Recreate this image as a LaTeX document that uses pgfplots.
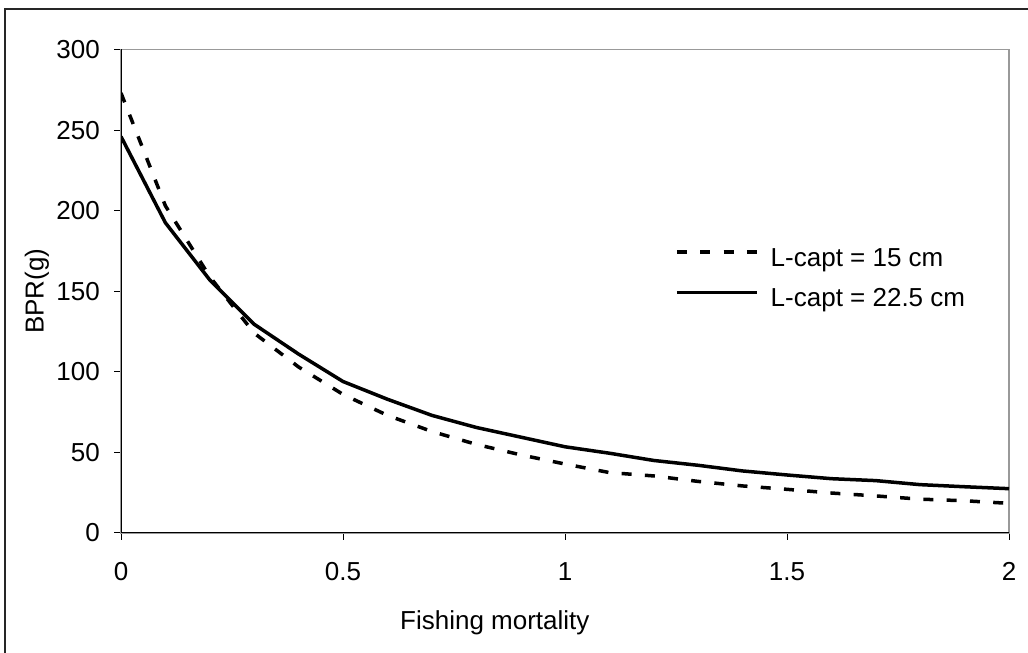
\documentclass[border=0pt]{standalone}
\usepackage{fontspec}
\setmainfont{Liberation Sans}
\usepackage{pgfplots}
\pgfplotsset{compat=1.18}

% Biomass per recruit against fishing mortality, two sizes at first capture
\pgfplotstableread{
F    bpr
0.0  273
0.1  203
0.2  159
0.3  124
0.4  103
0.5  86
0.6  73
0.7  63
0.8  55
0.9  48.5
1.0  42.8
1.1  37.5
1.2  35.4
1.3  32
1.4  29.2
1.5  27.1
1.6  24.8
1.7  23
1.8  21
1.9  20
2.0  18.4
}\lcaptfifteen

\pgfplotstableread{
F    bpr
0.0  246
0.1  192.5
0.2  157
0.3  129.5
0.4  111
0.5  94
0.6  83
0.7  73
0.8  65.5
0.9  59.5
1.0  53.5
1.1  49.5
1.2  45
1.3  42
1.4  38.5
1.5  36
1.6  33.7
1.7  32.5
1.8  30
1.9  28.7
2.0  27.5
}\lcapttwentytwo

\begin{document}
\begin{tikzpicture}[x=1pt,y=1pt,font=\fontsize{26}{31}\selectfont]
\useasboundingbox (0,0) rectangle (1028,653);
% outer chart frame
\draw[line width=1.5pt,black!85] (5,-10) -- (5,644) -- (1040,644);
\begin{axis}[
  at={(121pt,120pt)}, anchor=south west,
  width=888pt, height=483.5pt, scale only axis,
  xmin=0, xmax=2, ymin=0, ymax=300,
  xtick={0,0.5,1,1.5,2}, ytick={0,50,100,150,200,250,300},
  xtick pos=left, ytick pos=left,
  tick align=outside, major tick length=7pt,
  every tick/.style={black,line width=1pt},
  axis line style={draw=gray!80,line width=1.5pt},
  /pgf/number format/assume math mode=true,
  tick label style={font=\fontsize{26}{31}\selectfont},
  yticklabel style={anchor=east,inner sep=0pt,xshift=-14pt},
  xticklabel style={anchor=north,inner sep=0pt,yshift=-22pt},
  xlabel={Fishing mortality},
  ylabel={BPR(g)},
  xlabel style={at={(rel axis cs:0.421,-0.186)},anchor=center},
  ylabel style={at={(rel axis cs:-0.0946,0.5)},anchor=center},
  legend image code/.code={\draw[#1] (0pt,6pt) -- (80pt,6pt);},
  legend style={draw=none,fill=none,at={(rel axis cs:0.6239,0.5895)},anchor=north west,
    inner sep=0pt,row sep=21pt,column sep=12pt,nodes={inner sep=0pt}},
  legend cell align=left,
]
\addplot[black,line width=3.5pt,line join=round,dash pattern=on 10pt off 13.3pt] table[x=F,y=bpr] {\lcaptfifteen};
\addlegendentry{L-capt = 15 cm}
\addplot[black,line width=3.5pt,line join=round] table[x=F,y=bpr] {\lcapttwentytwo};
\addlegendentry{L-capt = 22.5 cm}
% left and bottom axis lines in black
\draw[black,line width=2pt] (rel axis cs:0,1) -- (rel axis cs:0,0) -- (rel axis cs:1,0);
\end{axis}
\end{tikzpicture}
\end{document}
